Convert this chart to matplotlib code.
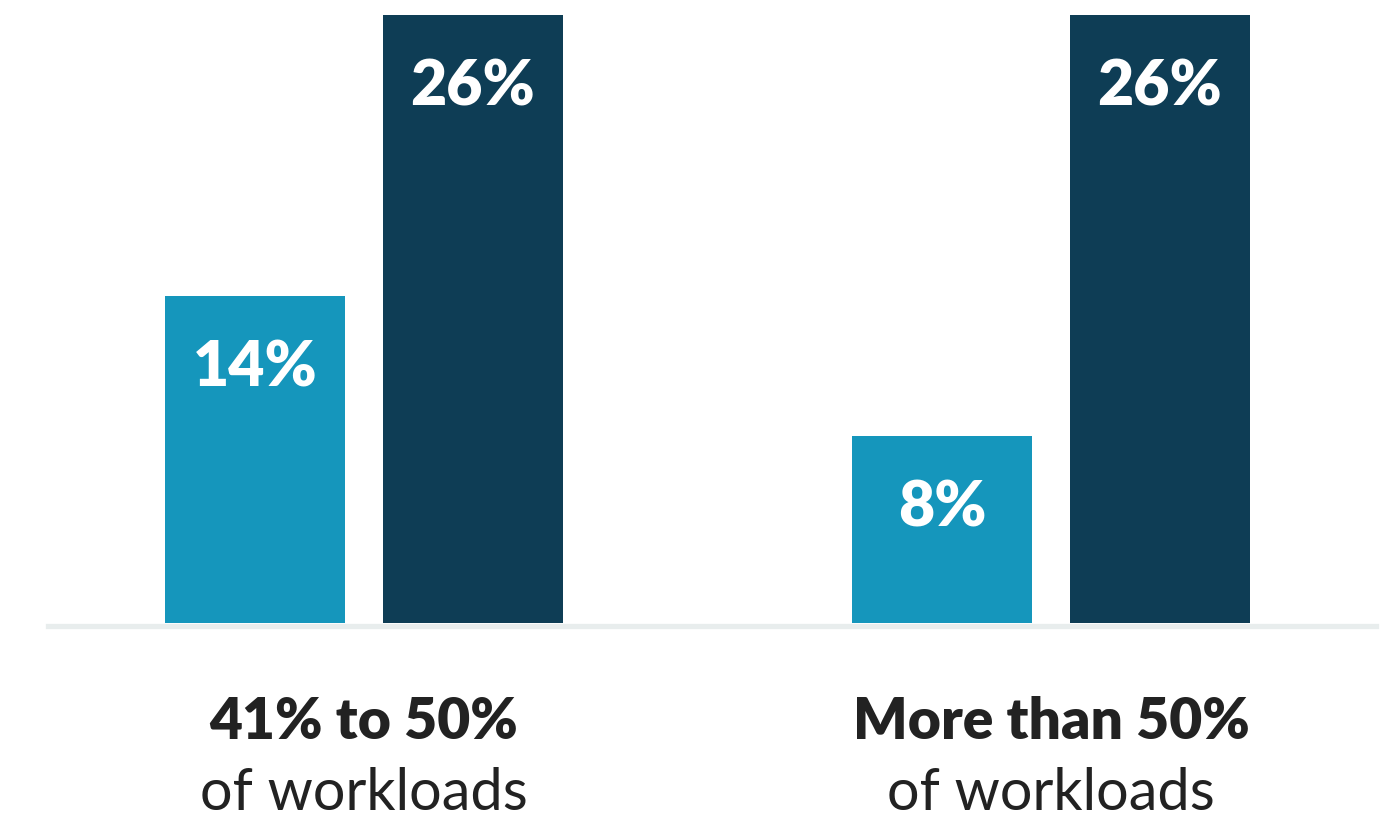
import matplotlib.pyplot as plt
import numpy as np

groups = ["41% to 50%", "More than 50%"]
subtitle = "of workloads"
series_a = [14, 8]
series_b = [26, 26]

LIGHT = "#1596BC"
DARK = "#0E3D55"

plt.rcParams['font.family'] = ['Lato', 'DejaVu Sans']

W, H = 1384, 819
fig = plt.figure(figsize=(W / 100, H / 100), dpi=100)
ax = fig.add_axes([48 / W, 196 / H, 1328 / W, 608 / H])

x = np.arange(len(groups))
width = 0.262
off = 0.158

bars_a = ax.bar(x - off, series_a, width, color=LIGHT, zorder=3)
bars_b = ax.bar(x + off, series_b, width, color=DARK, zorder=3)

for bars, vals in [(bars_a, series_a), (bars_b, series_b)]:
    for b, v in zip(bars, vals):
        ax.annotate(f"{v}%", (b.get_x() + b.get_width() / 2, v),
                    xytext=(0, -52), textcoords="offset points",
                    ha="center", va="center", color="white",
                    fontsize=45, fontweight="heavy", zorder=4)

ax.set_xlim(-0.46, 1.473)
ax.set_ylim(0, 26)

for s in ["top", "right", "left"]:
    ax.spines[s].set_visible(False)
ax.spines["bottom"].set_color("#E8EDED")
ax.spines["bottom"].set_linewidth(3.8)
ax.spines["bottom"].set_position(("outward", 2))
ax.set_yticks([])
ax.set_xticks([])

for i, g in enumerate(groups):
    ax.annotate(g, (x[i], 0), xytext=(0, -71), textcoords="offset points",
                ha="center", va="center", fontsize=41, fontweight="heavy",
                color="#222222", annotation_clip=False)
    ax.annotate(subtitle, (x[i], 0), xytext=(0, -123), textcoords="offset points",
                ha="center", va="center", fontsize=41.5, color="#222222",
                annotation_clip=False)

fig.savefig("out.png", dpi=100, facecolor="white")
